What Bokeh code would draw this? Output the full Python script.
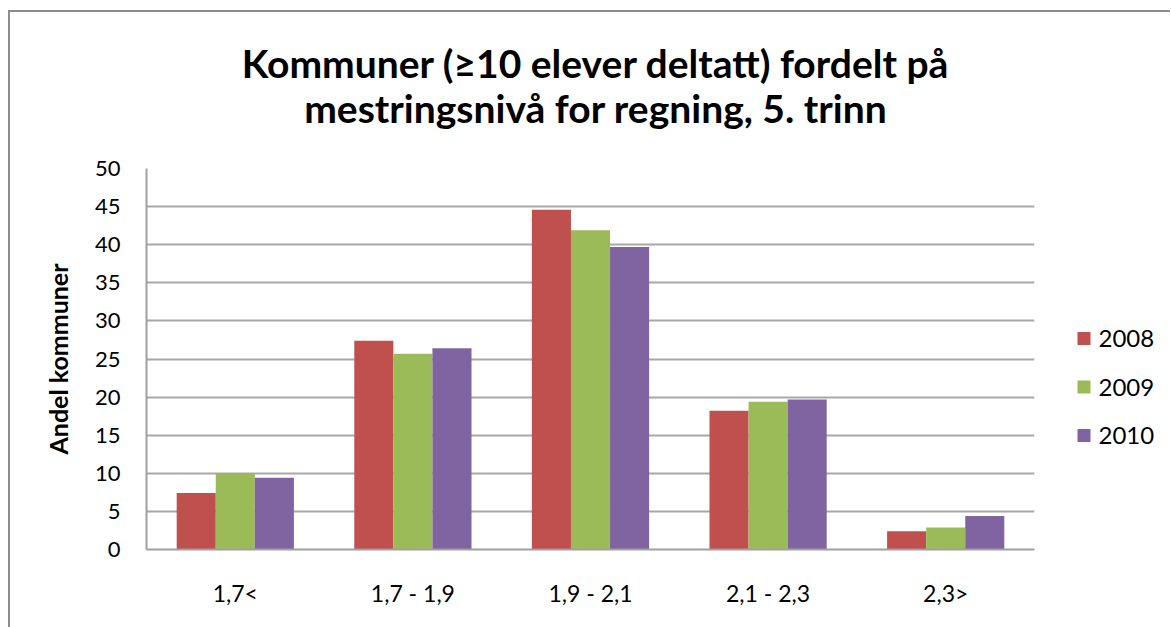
from bokeh.plotting import figure
from bokeh.layouts import row, column
from bokeh.models import FactorRange, Range1d, ColumnDataSource
from bokeh.transform import dodge
from bokeh.core.properties import value
from bokeh.embed import file_html
from bokeh.resources import INLINE

categories = ["1,7<", "1,7 - 1,9", "1,9 - 2,1", "2,1 - 2,3", "2,3>"]
years = ["2008", "2009", "2010"]
v2008 = [7.4, 27.4, 44.6, 18.2, 2.4]
v2009 = [10.0, 25.7, 41.9, 19.4, 2.9]
v2010 = [9.4, 26.4, 39.7, 19.7, 4.4]
colors = ["#C0504D", "#9BBB59", "#8064A2"]
title_lines = ["Kommuner (\u226510 elever deltatt) fordelt p\u00e5",
               "mestringsniv\u00e5 for regning, 5. trinn"]
y_label = "Andel kommuner"
y_ticks = [0, 5, 10, 15, 20, 25, 30, 35, 40, 45, 50]

FONT = "Lato"

# layout geometry (pixels)
W = 1160
TOP = 142          # height of the title strip
PAD_TOP = 14       # room above the frame for the top tick label
FRAME_H = 381
BOTTOM = 78
H = PAD_TOP + FRAME_H + BOTTOM
LEFT = 136
LEG_W = 134

def blank(fig):
    fig.axis.visible = False
    fig.grid.visible = False
    fig.outline_line_color = None
    fig.background_fill_color = "white"
    fig.border_fill_color = "white"

# ---- title strip
t = figure(width=W, height=TOP, output_backend="svg", toolbar_location=None,
           x_range=Range1d(0, 5), y_range=Range1d(TOP, 0),
           min_border_left=LEFT, min_border_right=LEG_W + 2,
           min_border_top=0, min_border_bottom=0)
blank(t)
t.text(x=[2.53, 2.53], y=[50, 95], text=title_lines, text_align="center",
       text_baseline="middle", text_font=value(FONT), text_font_size="39px",
       text_font_style="bold", text_color="black")

# ---- main chart
src = ColumnDataSource(dict(cat=categories, y2008=v2008, y2009=v2009, y2010=v2010))

p = figure(width=W - LEG_W, height=H, output_backend="svg", toolbar_location=None,
           x_range=FactorRange(*categories, range_padding=0),
           y_range=Range1d(0, 50),
           min_border_left=LEFT, min_border_right=2, min_border_top=PAD_TOP,
           min_border_bottom=BOTTOM)
p.outline_line_color = None
p.background_fill_color = "white"
p.border_fill_color = "white"

for i, (col, c) in enumerate(zip(["y2008", "y2009", "y2010"], colors)):
    p.vbar(x=dodge("cat", (i - 1) * 0.22, range=p.x_range), top=col, width=0.22,
           source=src, fill_color=c, line_color=None)

p.xgrid.grid_line_color = None
p.ygrid.grid_line_color = "#A8A8A8"
p.ygrid.grid_line_width = 2
p.yaxis.ticker = y_ticks

for ax in (p.xaxis, p.yaxis):
    ax.axis_line_color = "#A0A0A0"
    ax.axis_line_width = 2
    ax.major_tick_line_color = None
    ax.minor_tick_line_color = None
    ax.major_tick_out = 0
    ax.major_tick_in = 0
    ax.major_label_text_font = FONT
    ax.major_label_text_color = "black"

p.yaxis.major_label_text_font_size = "22px"
p.yaxis.major_label_standoff = 26
p.xaxis.major_label_text_font_size = "23px"
p.xaxis.major_label_standoff = 29

p.yaxis.axis_label = y_label
p.yaxis.axis_label_text_font = FONT
p.yaxis.axis_label_text_font_size = "25px"
p.yaxis.axis_label_text_font_style = "bold"
p.yaxis.axis_label_text_color = "black"
p.yaxis.axis_label_standoff = 19

# ---- legend panel (coordinates in pixels from the frame top)
q = figure(width=LEG_W, height=H, output_backend="svg", toolbar_location=None,
           x_range=Range1d(0, LEG_W), y_range=Range1d(FRAME_H, 0),
           min_border_left=0, min_border_right=0,
           min_border_top=PAD_TOP, min_border_bottom=BOTTOM)
blank(q)
row_y = [170 + 48.5 * i for i in range(len(years))]
q.scatter(x=[47.5] * len(years), y=row_y, marker="square", size=13,
          fill_color=colors, line_color=None)
q.text(x=[62] * len(years), y=row_y, text=years, text_baseline="middle",
       text_align="left", text_font=value(FONT), text_font_size="24px",
       text_color="black")

layout = column(t, row(p, q), margin=(10, 0, 0, 8), spacing=0,
                styles={"border-left": "2px solid #8C8C8C", "border-top": "2px solid #8C8C8C"})

open("out.html", "w").write(file_html(layout, INLINE))
